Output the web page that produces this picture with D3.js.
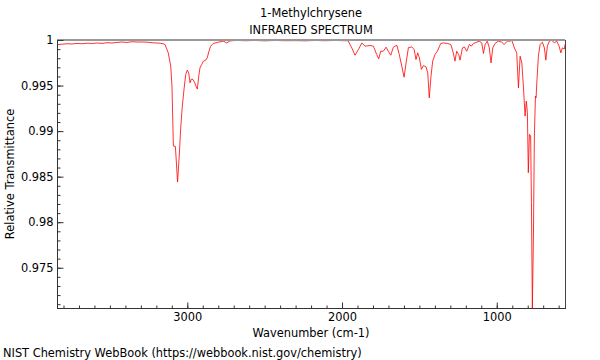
<!DOCTYPE html>
<html>
<head>
<meta charset="utf-8">
<script src="https://cdn.jsdelivr.net/npm/d3@7"></script>
<style>
  body { margin: 0; background: #fff; }
  text { font-family: "DejaVu Sans", sans-serif; fill: #000; }
</style>
</head>
<body>
<svg id="chart" width="600" height="360"></svg>
<script>
// spectrum
const wavenumber = [
  3842, 3810, 3777, 3745, 3713, 3680, 3648, 3616, 3583, 3551, 3519, 3487, 3454, 3422, 3390, 3357,
  3325, 3293, 3260, 3228, 3202, 3176, 3157, 3144, 3123, 3107, 3099, 3094, 3090, 3077, 3073, 3063,
  3052, 3043, 3032, 3021, 3010, 3000, 2991, 2982, 2974, 2963, 2952, 2944, 2935, 2926, 2918, 2907,
  2896, 2881, 2871, 2860, 2849, 2832, 2799, 2767, 2745, 2724, 2680, 2627, 2562, 2498, 2433, 2368,
  2304, 2239, 2174, 2110, 2045, 1980, 1961, 1937, 1916, 1894, 1872, 1851, 1819, 1797, 1776, 1763,
  1750, 1733, 1715, 1701, 1685, 1668, 1646, 1630, 1614, 1599, 1586, 1571, 1549, 1534, 1522, 1511,
  1500, 1487, 1474, 1457, 1446, 1436, 1425, 1414, 1399, 1384, 1362, 1345, 1319, 1297, 1281, 1270,
  1259, 1246, 1237, 1222, 1209, 1194, 1177, 1164, 1151, 1129, 1113, 1097, 1086, 1075, 1061, 1048,
  1037, 1026, 1011, 990, 968, 953, 931, 914, 903, 886, 871, 860, 849, 838, 828, 817,
  809, 802, 796, 789, 781, 776, 770, 763, 757, 750, 746, 740, 731, 720, 705, 692,
  683, 673, 660, 645, 628, 612, 597, 586, 576, 563, 559
]
const transmittance = [
  0.99948, 0.99954, 0.99959, 0.99956, 0.99963, 0.99959, 0.99965, 0.99962, 0.99967, 0.99963, 0.9997, 0.99967, 0.99973, 0.99978, 0.99973, 0.99981,
  0.99978, 0.99978, 0.99976, 0.9997, 0.99967, 0.99965, 0.99959, 0.99951, 0.99859, 0.99713, 0.99494, 0.99132, 0.98836, 0.98831, 0.98726, 0.98441,
  0.98726, 0.99022, 0.99274, 0.99461, 0.99622, 0.99669, 0.99639, 0.9953, 0.9957, 0.99567, 0.9953, 0.99494, 0.99461, 0.99603, 0.99694, 0.99731,
  0.99768, 0.99779, 0.99804, 0.99877, 0.99932, 0.99962, 0.99976, 0.99987, 0.99968, 0.9999, 0.99996, 0.99992, 0.99995, 0.99991, 0.99995, 0.99992,
  0.99993, 0.99991, 0.99995, 0.99992, 0.99995, 0.99992, 0.99992, 0.99913, 0.99833, 0.99896, 0.99968, 0.99932, 0.9994, 0.99932, 0.99841, 0.99793,
  0.99877, 0.99877, 0.99921, 0.99877, 0.99833, 0.99921, 0.99943, 0.99841, 0.99713, 0.99592, 0.99749, 0.99916, 0.99924, 0.99896, 0.99786, 0.99859,
  0.99804, 0.99677, 0.9972, 0.99705, 0.99639, 0.99365, 0.99603, 0.99768, 0.99841, 0.99877, 0.99962, 0.99968, 0.99962, 0.99951, 0.99859, 0.99768,
  0.99877, 0.99841, 0.99779, 0.99913, 0.99924, 0.99877, 0.99951, 0.99932, 0.99962, 0.99976, 0.99987, 0.99968, 0.99852, 0.99951, 0.99987, 0.99913,
  0.99749, 0.99913, 0.99962, 0.99987, 0.99976, 0.99951, 0.99987, 0.99987, 0.99998, 0.99913, 0.99859, 0.99475, 0.99822, 0.99749, 0.99494, 0.99165,
  0.99329, 0.99201, 0.98543, 0.98964, 0.98946, 0.98215, 0.97058, 0.97849, 0.98946, 0.99384, 0.99365, 0.99567, 0.99822, 0.99951, 0.99976, 0.99913,
  0.99779, 0.99932, 0.99987, 0.99998, 0.99968, 0.99987, 0.99932, 0.99859, 0.99913, 0.99902, 0.99951
]
const xTicks = [3000, 2000, 1000]
const yTicks = [0.975, 0.98, 0.985, 0.99, 0.995, 1]

const svg = d3.select('#chart')
const plotL = 57, plotR = 565, plotT = 40, plotB = 308
const fs = '11.4px'

const x = d3.scaleLinear().domain([3842, 559]).range([plotL, plotR])
const y = d3.scaleLinear().domain([0.97058, 1]).range([plotB, plotT])

// titles
svg.append('text').attr('x', 311).attr('y', 17).attr('text-anchor', 'middle')
  .style('font-size', fs).text('1-Methylchrysene')
svg.append('text').attr('x', 311).attr('y', 34).attr('text-anchor', 'middle')
  .style('font-size', fs).text('INFRARED SPECTRUM')

// clip the trace to the plot box
svg.append('clipPath').attr('id', 'clip')
  .append('rect').attr('x', plotL).attr('y', plotT).attr('width', plotR - plotL).attr('height', plotB - plotT)

const pts = wavenumber.map((w, i) => [w, transmittance[i]])
const line = d3.line().x(d => x(d[0])).y(d => y(d[1]))

svg.append('path')
  .datum(pts)
  .attr('clip-path', 'url(#clip)')
  .attr('fill', 'none')
  .attr('stroke', '#ff0000')
  .attr('stroke-opacity', 0.8)
  .attr('stroke-width', 1)
  .attr('d', line)

// frame
svg.append('line').attr('x1', plotL).attr('x2', plotR).attr('y1', plotT).attr('y2', plotT)
  .attr('stroke', '#999').attr('stroke-width', 2)
svg.append('line').attr('x1', plotR + 0.5).attr('x2', plotR + 0.5).attr('y1', plotT).attr('y2', plotB)
  .attr('stroke', '#444')

// bottom axis, ticks pointing up into the plot
const xAxis = d3.axisBottom(x)
  .tickValues(d3.range(600, 3900, 100))
  .tickSize(-3)
  .tickFormat('')
const gx = svg.append('g').attr('transform', `translate(0,${plotB + 0.5})`).call(xAxis)
gx.select('.domain').attr('stroke', '#333').attr('d', `M${plotL},0H${plotR + 1}`)
gx.selectAll('.tick line').attr('stroke', '#333')

const gxMaj = svg.append('g').attr('transform', `translate(0,${plotB + 0.5})`)
  .call(d3.axisBottom(x).tickValues(xTicks).tickSize(-6).tickPadding(4).tickFormat(d3.format('d')))
gxMaj.select('.domain').remove()
gxMaj.selectAll('.tick line').attr('stroke', '#333')
gxMaj.selectAll('.tick text').style('font-size', fs).style('font-family', '"DejaVu Sans", sans-serif')

// left axis, ticks pointing right
const yMinor = d3.range(971, 1001).map(v => v / 1000)
const gy = svg.append('g').attr('transform', `translate(${plotL + 0.5},0)`)
  .call(d3.axisLeft(y).tickValues(yMinor).tickSize(-3).tickFormat(''))
gy.select('.domain').attr('stroke', '#333').attr('d', `M0,${plotT}V${plotB}`)
gy.selectAll('.tick line').attr('stroke', '#333')

const gyMaj = svg.append('g').attr('transform', `translate(${plotL + 0.5},0)`)
  .call(d3.axisLeft(y).tickValues(yTicks).tickSize(-6).tickPadding(4).tickFormat(d => d === 1 ? '1' : d3.format('.3~f')(d)))
gyMaj.select('.domain').remove()
gyMaj.selectAll('.tick line').attr('stroke', '#333')
gyMaj.selectAll('.tick text').style('font-size', fs).style('font-family', '"DejaVu Sans", sans-serif')

// axis titles
svg.append('text').attr('x', 311).attr('y', 337).attr('text-anchor', 'middle')
  .style('font-size', fs).text('Wavenumber (cm-1)')
svg.append('text').attr('transform', 'translate(14,174) rotate(-90)').attr('text-anchor', 'middle')
  .style('font-size', fs).text('Relative Transmittance')

svg.append('text').attr('x', 3).attr('y', 357)
  .style('font-size', fs).text('NIST Chemistry WebBook (https://webbook.nist.gov/chemistry)')
</script>
</body>
</html>
